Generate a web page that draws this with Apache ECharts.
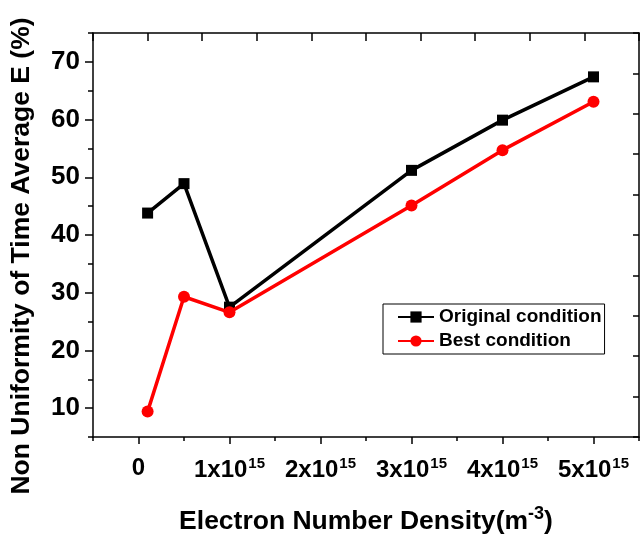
<!DOCTYPE html>
<html>
<head>
<meta charset="utf-8">
<script src="https://cdn.jsdelivr.net/npm/echarts@6/dist/echarts.min.js"></script>
<style>
  html, body { margin: 0; padding: 0; background: #fff; }
  #chart { width: 640px; height: 537px; }
</style>
</head>
<body>
<div id="chart"></div>
<script>
// Electron number density (m^-3)
const density = [1e14, 5e14, 1e15, 3e15, 4e15, 5e15];
// Non uniformity of time-averaged E field (%)
const originalCondition = [43.8, 48.9, 27.5, 51.2, 59.9, 67.4];
const bestCondition = [9.4, 29.3, 26.6, 45.1, 54.7, 63.1];
// Tick positions
const xMajorTicks = [0, 1e15, 2e15, 3e15, 4e15, 5e15];
const xMinorTicks = [-5e14, 5e14, 1.5e15, 2.5e15, 3.5e15, 4.5e15, 5.5e15];
const yMajorTicks = [10, 20, 30, 40, 50, 60, 70];
const yMinorTicks = [5, 15, 25, 35, 45, 55, 65, 75];

const FONT = 'Liberation Sans';
const black = '#000000';
const red = '#ff0000';

function pair(a, b) { return a.map((v, i) => [v, b[i]]); }

function xLabel(v) {
  if (Math.abs(v) < 1) return '{b|0}';
  const m = Math.round(v / 1e15);
  return '{b|' + m + 'x10}{s|15}';
}

const chart = echarts.init(document.getElementById('chart'), null, { renderer: 'canvas' });

const axisLine = { show: true, onZero: false, lineStyle: { color: black, width: 1.5 } };
const noLine = { show: false, onZero: false };

chart.setOption({
  backgroundColor: '#ffffff',
  animation: false,
  grid: { left: 93, right: 1, top: 33, bottom: 100, containLabel: false, outerBoundsMode: 'none' },
  legend: {
    orient: 'vertical',
    left: 383,
    top: 304,
    padding: [3, 3, 3, 14],
    itemGap: 4,
    itemWidth: 36,
    itemHeight: 14,
    borderColor: black,
    borderWidth: 1,
    backgroundColor: '#fff',
    textStyle: { fontFamily: FONT, fontWeight: 'bold', fontSize: 19, color: black, lineHeight: 20 },
    data: ['Original condition', 'Best condition']
  },
  xAxis: [
    {
      type: 'value', position: 'bottom',
      min: -5e14, max: 5.5e15,
      axisLine: axisLine,
      splitLine: { show: false },
      axisTick: { show: true, inside: false, length: 7, customValues: xMajorTicks, lineStyle: { color: black, width: 1.5 } },
      axisLabel: {
        customValues: xMajorTicks,
        margin: 19,
        formatter: xLabel,
        rich: {
          b: { fontFamily: FONT, fontWeight: 'bold', fontSize: 24, color: black },
          s: { fontFamily: FONT, fontWeight: 'bold', fontSize: 15, color: black, padding: [0, 0, 13, 1] }
        }
      },
      name: '{b|Electron Number Density(m}{s|-3}{b|)}',
      nameLocation: 'middle',
      nameGap: 68,
      nameTextStyle: {
        rich: {
          b: { fontFamily: FONT, fontWeight: 'bold', fontSize: 26.5, color: black },
          s: { fontFamily: FONT, fontWeight: 'bold', fontSize: 18, color: black, padding: [0, 0, 15, 0] }
        }
      }
    },
    {
      type: 'value', position: 'bottom',
      min: -5e14, max: 5.5e15,
      axisLine: noLine,
      splitLine: { show: false },
      axisTick: { show: true, inside: false, length: 4, customValues: xMinorTicks, lineStyle: { color: black, width: 1.5 } },
      axisLabel: { show: false }
    },
    {
      type: 'value', position: 'top',
      min: 0, max: 10, interval: 1,
      axisLine: axisLine,
      splitLine: { show: false },
      axisTick: { show: true, inside: true, length: 8, lineStyle: { color: black, width: 1.5 } },
      axisLabel: { show: false }
    }
  ],
  yAxis: [
    {
      type: 'value', position: 'left',
      min: 5, max: 75,
      axisLine: axisLine,
      splitLine: { show: false },
      axisTick: { show: true, inside: false, length: 8, customValues: yMajorTicks, lineStyle: { color: black, width: 1.5 } },
      axisLabel: {
        customValues: yMajorTicks,
        margin: 13,
        fontFamily: FONT, fontWeight: 'bold', fontSize: 26, color: black
      },
      name: 'Non Uniformity of Time Average E (%)',
      nameLocation: 'middle',
      nameRotate: 90,
      nameGap: 58,
      nameTextStyle: { fontFamily: FONT, fontWeight: 'bold', fontSize: 26.5, color: black, padding: [0, 42, 0, 0] }
    },
    {
      type: 'value', position: 'left',
      min: 5, max: 75,
      axisLine: noLine,
      splitLine: { show: false },
      axisTick: { show: true, inside: false, length: 5, customValues: yMinorTicks, lineStyle: { color: black, width: 1.5 } },
      axisLabel: { show: false }
    },
    {
      type: 'value', position: 'right',
      min: 0, max: 10, interval: 1,
      axisLine: axisLine,
      splitLine: { show: false },
      axisTick: { show: true, inside: true, length: 6, lineStyle: { color: black, width: 1.5 } },
      axisLabel: { show: false }
    }
  ],
  series: [
    {
      name: 'Original condition',
      type: 'line',
      xAxisIndex: 0, yAxisIndex: 0,
      data: pair(density, originalCondition),
      symbol: 'rect', symbolSize: 11,
      lineStyle: { color: black, width: 3.5 },
      itemStyle: { color: black },
      z: 3
    },
    {
      name: 'Best condition',
      type: 'line',
      xAxisIndex: 0, yAxisIndex: 0,
      data: pair(density, bestCondition),
      symbol: 'circle', symbolSize: 12,
      lineStyle: { color: red, width: 3.5 },
      itemStyle: { color: red },
      z: 4
    }
  ]
});
</script>
</body>
</html>
